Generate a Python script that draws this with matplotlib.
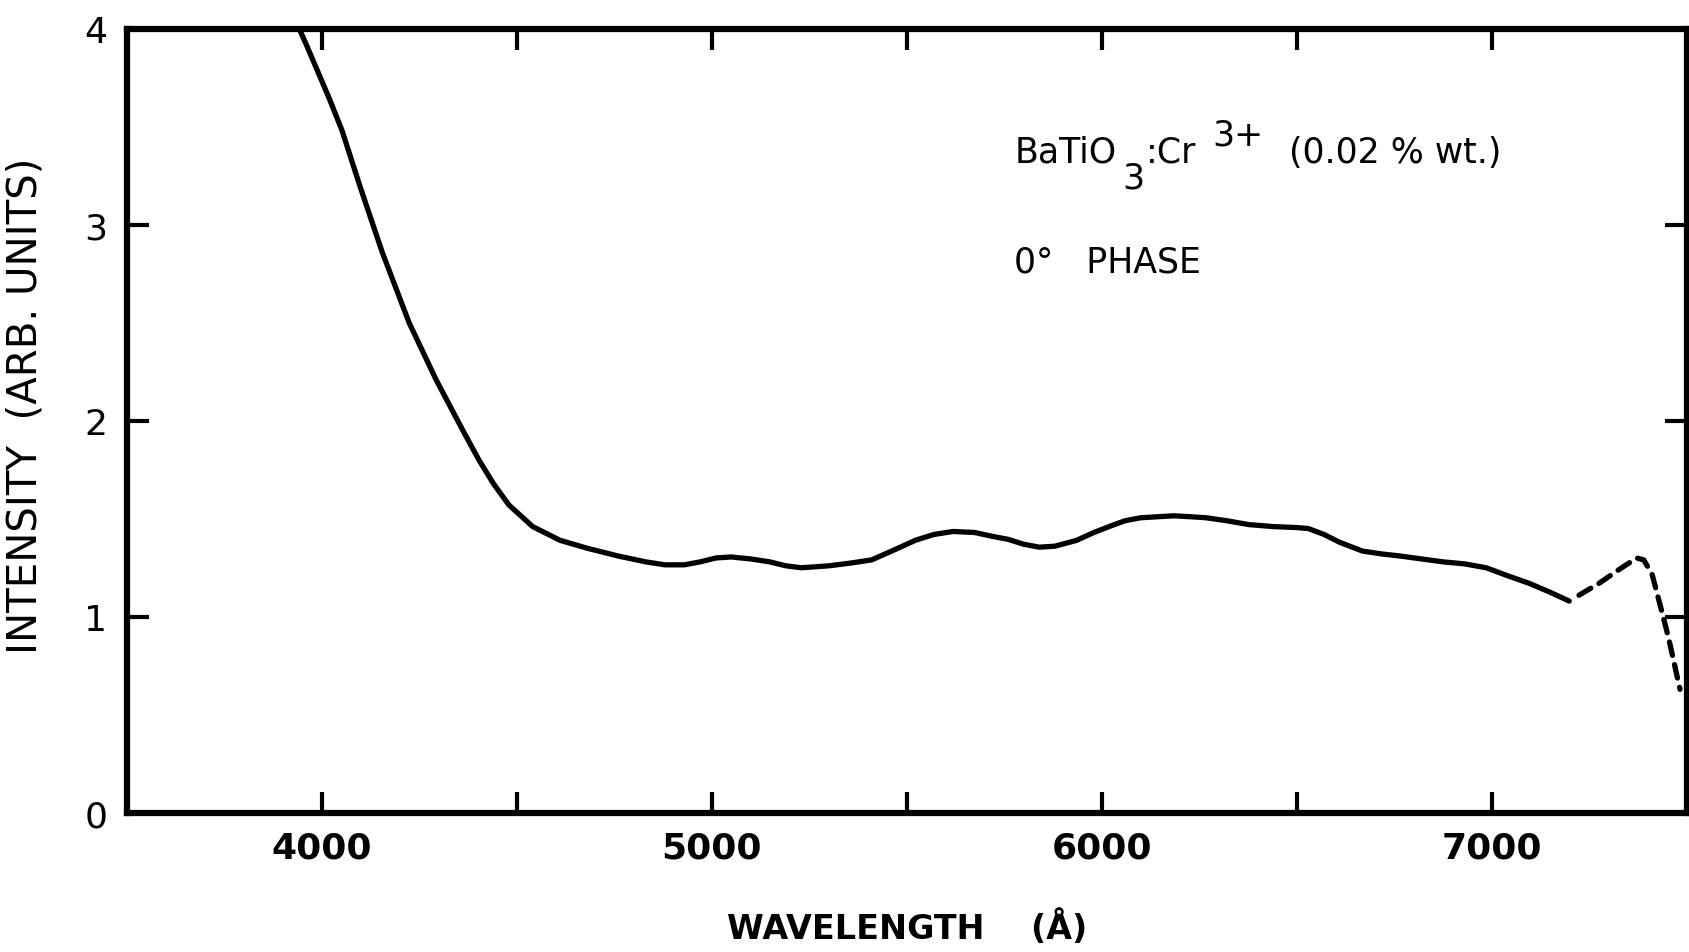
#!/usr/bin/env python3
"""Intensity vs wavelength for BaTiO3:Cr3+ (0.02 % wt.), 0 deg phase."""

import matplotlib
matplotlib.use("Agg")
import matplotlib.pyplot as plt

wavelength = [3942, 3960, 3990, 4020, 4052, 4099, 4155, 4224, 4293, 4362,
              4403, 4440, 4480, 4541, 4611, 4680, 4760, 4831, 4880, 4930,
              4970, 5011, 5050, 5100, 5149, 5190, 5230, 5301, 5360, 5410,
              5467, 5522, 5570, 5619, 5674, 5720, 5760, 5800, 5840, 5880,
              5936, 5980, 6019, 6060, 6100, 6185, 6230, 6268, 6320, 6378,
              6440, 6500, 6530, 6570, 6610, 6669, 6720, 6765, 6820, 6876,
              6930, 6986, 7040, 7097, 7150, 7199]
intensity = [4.00, 3.92, 3.78, 3.64, 3.48, 3.19, 2.86, 2.50, 2.21, 1.95,
             1.80, 1.68, 1.57, 1.46, 1.39, 1.35, 1.31, 1.28, 1.265, 1.265,
             1.28, 1.30, 1.305, 1.295, 1.28, 1.26, 1.25, 1.26, 1.275, 1.29,
             1.34, 1.39, 1.42, 1.435, 1.43, 1.41, 1.395, 1.37, 1.355, 1.36,
             1.39, 1.43, 1.46, 1.49, 1.505, 1.515, 1.51, 1.505, 1.49, 1.47,
             1.46, 1.455, 1.45, 1.42, 1.38, 1.335, 1.32, 1.31, 1.295, 1.28,
             1.27, 1.25, 1.21, 1.17, 1.125, 1.08]

# uncertain tail (dashed)
wavelength_tail = [7224, 7275, 7326, 7372, 7390, 7411, 7436, 7454, 7483]
intensity_tail = [1.11, 1.17, 1.24, 1.30, 1.29, 1.22, 1.03, 0.89, 0.63]

xticks = [4000, 4500, 5000, 5500, 6000, 6500, 7000]
xticklabels = ["4000", "", "5000", "", "6000", "", "7000"]
yticks = [0, 1, 2, 3, 4]

fig = plt.figure(figsize=(16.9, 9.53), dpi=100)
ax = fig.add_axes([0.075, 0.146, 0.923, 0.823])

ax.plot(wavelength, intensity, color="black", lw=3.8, solid_capstyle="round",
        solid_joinstyle="round", clip_on=False)
ax.plot(wavelength_tail, intensity_tail, color="black", lw=3.8,
        dashes=(2.6, 1.8), dash_capstyle="round", dash_joinstyle="round")

ax.set_xlim(3500, 7500)
ax.set_ylim(0, 4)

ax.set_xticks(xticks)
ax.set_xticklabels(xticklabels, fontsize=26, fontweight="bold")
ax.set_yticks(yticks)
ax.set_yticklabels([str(v) for v in yticks], fontsize=26)
ax.tick_params(axis="x", direction="in", length=15, width=3, top=True, pad=13)
ax.tick_params(axis="y", direction="in", length=16, width=3, right=True, pad=14)

for sp in ax.spines.values():
    sp.set_linewidth(4.5)

ax.set_xlabel("WAVELENGTH    (Å)", fontsize=24, fontweight="bold", labelpad=32)
ax.set_ylabel("INTENSITY  (ARB. UNITS)", fontsize=29)
ax.yaxis.set_label_coords(-0.052, 0.52)

# annotation pieces
ax.text(5776, 3.32, "BaTiO", fontsize=25, ha="left", va="baseline")
ax.text(6054, 3.19, "3", fontsize=25, ha="left", va="baseline")
ax.text(6113, 3.32, ":Cr", fontsize=25, ha="left", va="baseline")
ax.text(6285, 3.41, "3+", fontsize=25, ha="left", va="baseline")
ax.text(6480, 3.32, "(0.02 % wt.)", fontsize=25, ha="left", va="baseline")
ax.text(5776, 2.76, "0°   PHASE", fontsize=25, ha="left", va="baseline")

fig.savefig("out.png", dpi=100)
